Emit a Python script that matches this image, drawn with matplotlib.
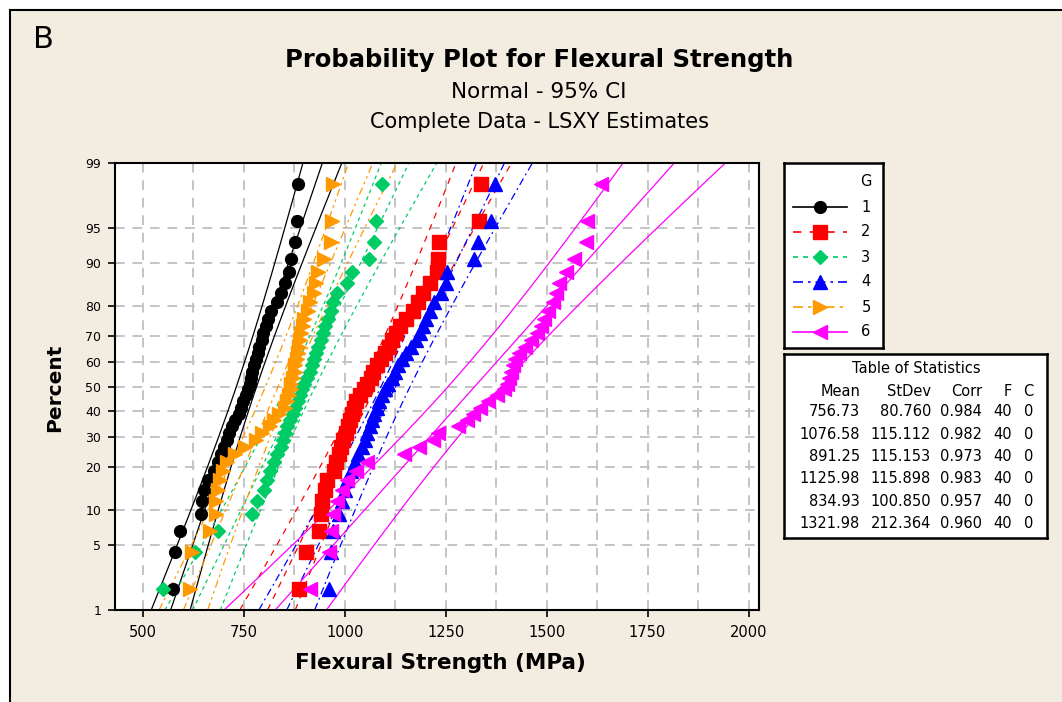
import numpy as np
import matplotlib
matplotlib.use("Agg")
import matplotlib.pyplot as plt
from matplotlib.patches import Rectangle
from matplotlib.lines import Line2D
from matplotlib.ticker import MultipleLocator
from statistics import NormalDist

W, H = 1062, 702

# Flexural strength (MPa), 40 specimens per group
g1 = [575, 579, 593, 645, 646, 652, 662, 675, 687, 694,
      702, 709, 714, 722, 729, 737, 744, 749, 756, 761,
      766, 769, 771, 776, 780, 784, 787, 794, 797, 804,
      811, 818, 831, 841, 853, 861, 868, 877, 881, 884]
g2 = [886, 903, 936, 940, 944, 950, 955, 973, 979, 986,
      991, 996, 1002, 1009, 1014, 1018, 1022, 1029, 1039, 1047,
      1054, 1064, 1071, 1081, 1091, 1099, 1109, 1117, 1126, 1138,
      1151, 1168, 1181, 1195, 1210, 1228, 1231, 1233, 1332, 1337]
g3 = [549, 630, 685, 771, 783, 799, 808, 816, 825, 833,
      841, 846, 852, 858, 864, 873, 878, 883, 889, 894,
      900, 907, 913, 918, 923, 928, 934, 940, 945, 951,
      958, 965, 972, 982, 1005, 1019, 1059, 1072, 1077, 1093]
g4 = [961, 967, 972, 985, 992, 1000, 1005, 1015, 1025, 1032,
      1042, 1049, 1056, 1062, 1068, 1073, 1079, 1085, 1092, 1099,
      1108, 1116, 1124, 1131, 1141, 1151, 1164, 1176, 1186, 1193,
      1202, 1211, 1221, 1238, 1250, 1253, 1321, 1331, 1362, 1372]
g5 = [617, 621, 667, 680, 682, 685, 692, 699, 709, 727,
      754, 779, 796, 814, 826, 838, 851, 858, 863, 866,
      868, 872, 876, 878, 881, 883, 886, 888, 892, 896,
      900, 908, 915, 923, 930, 935, 948, 967, 969, 970]
g6 = [915, 960, 967, 972, 980, 992, 1005, 1027, 1054, 1146,
      1183, 1218, 1231, 1280, 1303, 1317, 1335, 1355, 1377, 1394,
      1402, 1407, 1412, 1417, 1422, 1432, 1447, 1461, 1476, 1486,
      1494, 1504, 1516, 1524, 1531, 1548, 1568, 1598, 1601, 1635]
data = [g1, g2, g3, g4, g5, g6]

groups = ['1', '2', '3', '4', '5', '6']
means = [756.73, 1076.58, 891.25, 1125.98, 834.93, 1321.98]
stdevs = [80.760, 115.112, 115.153, 115.898, 100.850, 212.364]
corrs = [0.984, 0.982, 0.973, 0.983, 0.957, 0.960]
fails = [40, 40, 40, 40, 40, 40]
cens = [0, 0, 0, 0, 0, 0]

pct_ticks = [1, 5, 10, 20, 30, 40, 50, 60, 70, 80, 90, 95, 99]
x_ticks = [500, 750, 1000, 1250, 1500, 1750, 2000]

colors = ['black', '#FF0000', '#00CC66', '#0000FF', '#FF9900', '#FF00FF']
markers = ['o', 's', 'D', '^', '>', '<']
msizes = [8.5, 9.5, 6.8, 10, 9.5, 9.5]
dashes = [None, (5, 5), (3, 3), (6, 3, 1.5, 3), (6, 3, 2, 3, 2, 3), None]

nd = NormalDist()


def pz(p):
    return nd.inv_cdf(p)


def px(x, y):
    # figure pixel position -> figure fraction
    return x / W, 1 - y / H


plt.rcParams['font.family'] = ['DejaVu Sans']

fig = plt.figure(figsize=(W / 100, H / 100), dpi=100, facecolor='white')
fig.patches.append(Rectangle((10 / W, -0.1), 1.2, 1.1 - 10 / H, transform=fig.transFigure,
                             facecolor='#F3EDE1', edgecolor='black', lw=1.5, zorder=-10))

ax = fig.add_axes([115 / W, 1 - 610 / H, (759 - 115) / W, (610 - 163) / H])
ax.set_facecolor('white')

zlo, zhi = pz(0.01), pz(0.99)
zz = np.linspace(zlo, zhi, 300)

for k in range(6):
    vals = np.sort(np.array(data[k], dtype=float))
    n = len(vals)
    pos = (np.arange(1, n + 1) - 0.3) / (n + 0.4)
    zs = np.array([pz(p) for p in pos])
    mu, sd = means[k], stdevs[k]
    fit = mu + sd * zz
    half = 1.96 * sd * np.sqrt(1 / n + zz ** 2 / (2 * n))
    for curve in (fit, fit - half, fit + half):
        ln, = ax.plot(curve, zz, color=colors[k], lw=0.9, zorder=2)
        if dashes[k] is not None:
            ln.set_dashes(dashes[k])
    ax.plot(vals, zs, ls='none', marker=markers[k], ms=msizes[k],
            color=colors[k], mec=colors[k], zorder=3 + k)

ax.set_xlim(431, 2026)
ax.set_ylim(zlo, zhi)
ax.set_xticks(x_ticks)
ax.xaxis.set_minor_locator(MultipleLocator(125))
ax.set_yticks([pz(p / 100) for p in pct_ticks])
ax.set_yticklabels([str(p) for p in pct_ticks])
ax.tick_params(axis='x', which='major', length=5, width=1.2, labelsize=10.5, pad=6)
ax.tick_params(axis='x', which='minor', length=0)
ax.tick_params(axis='y', length=5, width=1.2, labelsize=9, pad=5)
ax.grid(True, which='both', color='#C4C4C4', lw=1.4, ls=(0, (5, 4)), zorder=0)
ax.set_axisbelow(True)
for s in ax.spines.values():
    s.set_linewidth(1.5)

# titles and axis labels
fig.text(*px(33, 40), 'B', fontsize=22, ha='left', va='center')
fig.text(*px(539, 60), 'Probability Plot for Flexural Strength', fontsize=17.5,
         fontweight='bold', ha='center', va='center')
fig.text(*px(539, 92), 'Normal - 95% CI', fontsize=15.5, ha='center', va='center')
fig.text(*px(540, 122), 'Complete Data - LSXY Estimates', fontsize=15, ha='center', va='center')
fig.text(*px(55, 388), 'Percent', fontsize=14.5, fontweight='bold', rotation=90,
         ha='center', va='center')
fig.text(*px(440, 663), 'Flexural Strength (MPa)', fontsize=15.5, fontweight='bold',
         ha='center', va='center')

# legend box
lx0, ly0, lx1, ly1 = 784, 163, 883, 348
lax = fig.add_axes([lx0 / W, 1 - ly1 / H, (lx1 - lx0) / W, (ly1 - ly0) / H])
lax.set_xlim(lx0, lx1)
lax.set_ylim(ly1, ly0)
lax.set_xticks([])
lax.set_yticks([])
for s in lax.spines.values():
    s.set_linewidth(1.8)
lax.text(866, 181, 'G', fontsize=10.5, ha='center', va='center')
for k in range(6):
    yy = 207 + 25 * k
    ln = Line2D([793, 847], [yy, yy], color=colors[k], lw=1.2)
    if dashes[k] is not None:
        ln.set_dashes(dashes[k])
    lax.add_line(ln)
    lax.plot([820], [yy], marker=markers[k], ms=msizes[k], color=colors[k], ls='none')
    lax.text(866, yy, groups[k], fontsize=10.5, ha='center', va='center')

# table of statistics
tx0, ty0, tx1, ty1 = 784, 354, 1047, 538
tax = fig.add_axes([tx0 / W, 1 - ty1 / H, (tx1 - tx0) / W, (ty1 - ty0) / H])
tax.set_xlim(tx0, tx1)
tax.set_ylim(ty1, ty0)
tax.set_xticks([])
tax.set_yticks([])
for s in tax.spines.values():
    s.set_linewidth(1.8)
tax.text(916, 368, 'Table of Statistics', fontsize=10.5, ha='center', va='center')
col_x = [860, 931, 982, 1012, 1033]
heads = ['Mean', 'StDev', 'Corr', 'F', 'C']
for cx, hd in zip(col_x, heads):
    tax.text(cx, 391, hd, fontsize=10.5, ha='right', va='center')
for k in range(6):
    yy = 412 + 22.3 * k
    cells = [f'{means[k]:.2f}', f'{stdevs[k]:.3f}', f'{corrs[k]:.3f}',
             str(fails[k]), str(cens[k])]
    for cx, c in zip(col_x, cells):
        tax.text(cx, yy, c, fontsize=10.5, ha='right', va='center')

fig.savefig('out.png', dpi=100, facecolor=fig.get_facecolor())
